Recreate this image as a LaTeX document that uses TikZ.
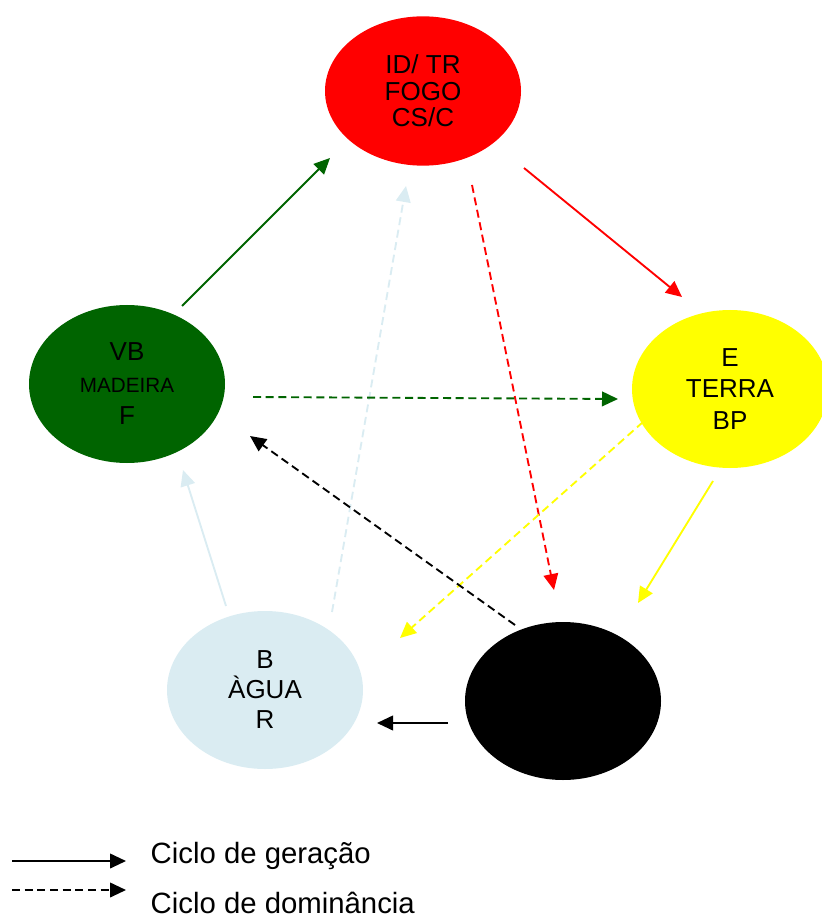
\documentclass[tikz,border=0pt]{standalone}
\usepackage{fontspec}
\setmainfont{Liberation Sans}
\usetikzlibrary{arrows.meta,shapes.geometric}
\definecolor{vermelho}{RGB}{255,0,0}
\definecolor{verde}{RGB}{0,100,0}
\definecolor{amarelo}{RGB}{255,255,0}
\definecolor{azulclaro}{RGB}{218,236,242}

\tikzset{
	gera/.style={line width=1.4pt, -{Triangle[length=12pt,width=11pt]}},
	domina/.style={gera, dash pattern=on 6pt off 3.5pt},
	legenda/.style={anchor=base west, font=\fontsize{22}{22}\selectfont}
}

\begin{document}
\begin{tikzpicture}[x=0.75pt, y=-0.75pt]
		\useasboundingbox (0,0) rectangle (821,919);
		\begin{scope}[every node/.style={ellipse, inner sep=0pt, minimum width=147pt, minimum height=118.5pt, align=center, font=\fontsize{19.5}{23.5}\selectfont}]
			\node[fill=vermelho, minimum height=112pt, font=\fontsize{19.5}{20}\selectfont] (fogo) at (423,91) {ID/ TR\\FOGO\\CS/C};
			\node[fill=verde, font=\fontsize{19.5}{24}\selectfont] (madeira) at (127,384) {VB\\{\fontsize{15.5}{16}\selectfont MADEIRA}\\F};
			\node[fill=amarelo] (terra) at (730,389) {E\\TERRA\\BP};
			\node[fill=azulclaro, font=\fontsize{19.5}{22.5}\selectfont] (agua) at (265,690) {B\\ÀGUA\\R};
			\node[fill=black, font=\fontsize{19.5}{24.5}\selectfont] (metal) at (563,701) {IG\\METAL\\P};
		\end{scope}
		% ciclo de geracao
		\draw[gera, verde] ([shift={(55,-78)}]madeira.center) -- ([shift={(-93,67)}]fogo.center);
		\draw[gera, vermelho] ([shift={(101,77)}]fogo.center) -- ([shift={(-48,-92)}]terra.center);
		\draw[gera, amarelo] ([shift={(-17,92)}]terra.center) -- ([shift={(75,-98)}]metal.center);
		\draw[gera, black] ([shift={(-115,22)}]metal.center) -- ([shift={(112,33)}]agua.center);
		\draw[gera, azulclaro] ([shift={(-39,-84)}]agua.center) -- ([shift={(56,86)}]madeira.center);
		% ciclo de dominancia
		\draw[domina, azulclaro] ([shift={(67,-78)}]agua.center) -- ([shift={(-17,95)}]fogo.center);
		\draw[domina, vermelho] ([shift={(49,94)}]fogo.center) -- ([shift={(-9,-111)}]metal.center);
		\draw[domina, verde] ([shift={(126,13)}]madeira.center) -- ([shift={(-112,10)}]terra.center);
		\draw[domina, amarelo] ([shift={(-87,33)}]terra.center) -- ([shift={(135,-52)}]agua.center);
		\draw[domina, black] ([shift={(-48,-76)}]metal.center) -- ([shift={(123,52)}]madeira.center);
		% legenda
		\node[legenda] (lgera) at (146,863) {Ciclo de geração};
		\node[legenda] (ldomina) at (146,913) {Ciclo de dominância};
		\coordinate (g1) at (12,861);
		\coordinate (g2) at (126,861);
		\coordinate (d1) at (12,890);
		\coordinate (d2) at (126,890);
		\draw[gera, black] (g1) -- (g2);
		\draw[domina, black] (d1) -- (d2);
	\end{tikzpicture}
\end{document}
